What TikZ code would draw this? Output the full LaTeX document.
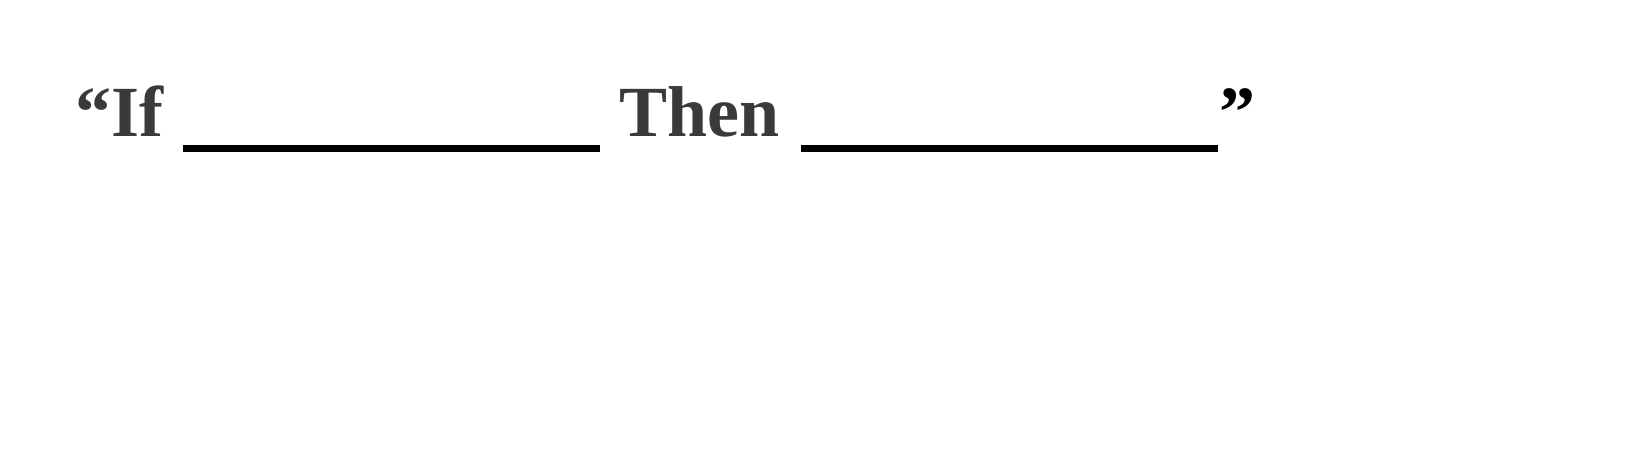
\documentclass[tikz,border=0pt]{standalone}
\usepackage{fontspec}
\setmainfont{Liberation Serif}
\definecolor{txt}{HTML}{3A3A3A}
\begin{document}
\begin{tikzpicture}[x=1pt,y=-1pt,
  lbl/.style={inner sep=0pt, outer sep=0pt, anchor=base west, font=\fontsize{72}{72}\selectfont\bfseries, text=txt},
  blankline/.style={line width=7pt, black}]
\useasboundingbox (0,0) rectangle (1625,467);
\node[lbl] (if) at (75,136) {“If};
\coordinate (b1s) at (183,148.5);
\coordinate (b1e) at (600,148.5);
\draw[blankline] (b1s) -- (b1e);
\node[lbl] (then) at (619,136) {Then};
\coordinate (b2s) at (801,148.5);
\coordinate (b2e) at (1218,148.5);
\draw[blankline] (b2s) -- (b2e);
\node[lbl, text=black] (close) at (1219,136) {”};
\end{tikzpicture}
\end{document}
